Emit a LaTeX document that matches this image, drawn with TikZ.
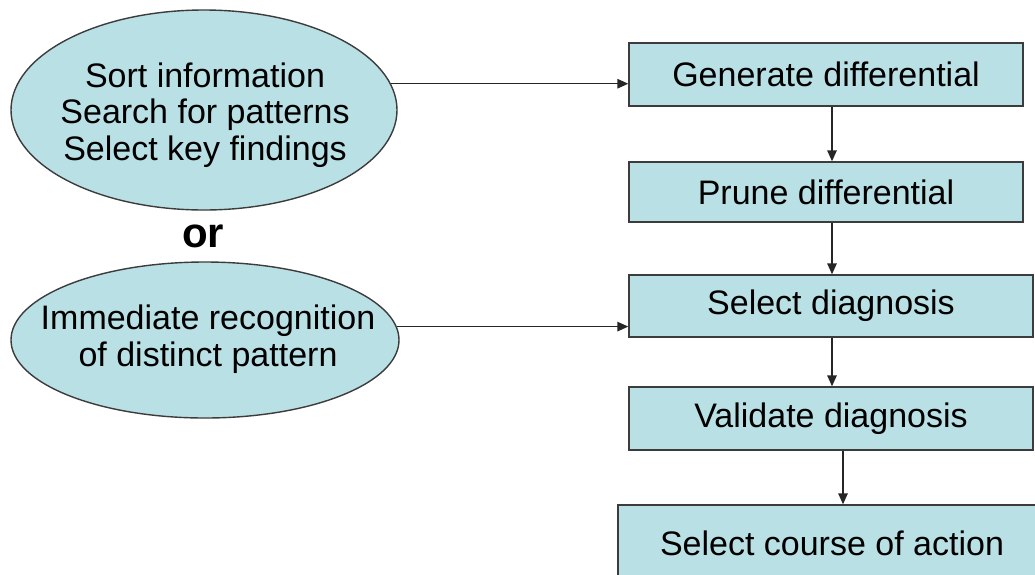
\documentclass[tikz,border=0pt]{standalone}
\usepackage{fontspec}
\setmainfont{Liberation Sans}
\usetikzlibrary{arrows.meta,shapes.geometric}
\definecolor{boxfill}{RGB}{185,224,228}
\definecolor{edgegray}{RGB}{60,60,60}
\begin{document}
\begin{tikzpicture}[x=1pt,y=-1pt,
  oval/.style={ellipse, draw=edgegray, line width=1.4pt, fill=boxfill, inner sep=0pt},
  stepbox/.style={rectangle, draw=edgegray, line width=1.4pt, fill=boxfill,
    inner sep=0pt, font=\fontsize{34}{36.5}\selectfont},
  ovaltext/.style={align=center, inner sep=0pt, font=\fontsize{34}{36.5}\selectfont},
  arr/.style={draw=black!85, line width=1.4pt, -{Triangle[length=11pt,width=9.5pt]}}]
  \clip (0,0) rectangle (1035,574);
  \fill[white] (0,0) rectangle (1035,574);

  % left-hand entry points
  \node[oval, minimum width=386pt, minimum height=200pt] (e1) at (204,110) {};
  \node[ovaltext] (t1) at (205,115) {Sort information\\Search for patterns\\Select key findings};
  \node[inner sep=0pt, font=\bfseries\fontsize{42}{46}\selectfont] (or) at (203,236) {or};
  \node[oval, minimum width=388pt, minimum height=156pt] (e2) at (205,340) {};
  \node[ovaltext] (t2) at (208,339) {Immediate recognition\\of distinct pattern};

  % diagnostic steps (the last one runs past the lower edge)
  \node[stepbox, minimum width=394pt, minimum height=63pt] (b1) at (826,74.5) {Generate differential};
  \node[stepbox, minimum width=394pt, minimum height=60pt] (b2) at (826,192) {Prune differential};
  \node[stepbox, minimum width=404pt, minimum height=62pt] (b3) at (831,306) {Select diagnosis};
  \node[stepbox, minimum width=404pt, minimum height=63pt] (b4) at (831,418.5) {Validate diagnosis};
  \node[stepbox, minimum width=428pt, minimum height=76pt] (b5) at (832,543) {Select course of action};

  % columns used by the vertical connectors
  \coordinate (ax) at (832,0);
  \coordinate (bx) at (843,0);

  \draw[arr] (e1.8) -- (e1.8 -| b1.west);
  \draw[arr] (e2.4) -- (e2.4 -| b3.west);
  \draw[arr] (b1.south -| ax) -- (b2.north -| ax);
  \draw[arr] (b2.south -| ax) -- (b3.north -| ax);
  \draw[arr] (b3.south -| ax) -- (b4.north -| ax);
  \draw[arr] (b4.south -| bx) -- (b5.north -| bx);
\end{tikzpicture}
\end{document}
